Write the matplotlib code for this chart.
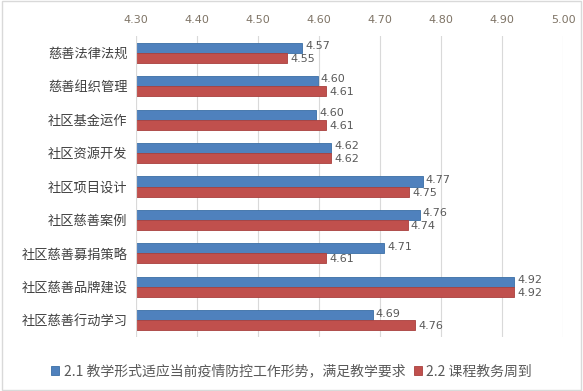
import numpy as np
import matplotlib
matplotlib.use("Agg")
import matplotlib.pyplot as plt
from matplotlib.patches import Rectangle

plt.rcParams['font.family'] = ['Noto Sans CJK SC', 'DejaVu Sans']

categories = ['慈善法律法规', '慈善组织管理', '社区基金运作', '社区资源开发', '社区项目设计',
              '社区慈善案例', '社区慈善募捐策略', '社区慈善品牌建设', '社区慈善行动学习']
s1 = [4.572, 4.598, 4.595, 4.62, 4.77, 4.765, 4.707, 4.92, 4.688]
s2 = [4.548, 4.612, 4.612, 4.62, 4.748, 4.745, 4.612, 4.92, 4.758]
labels1 = ['4.57', '4.60', '4.60', '4.62', '4.77', '4.76', '4.71', '4.92', '4.69']
labels2 = ['4.55', '4.61', '4.61', '4.62', '4.75', '4.74', '4.61', '4.92', '4.76']
series_names = ['2.1 教学形式适应当前疫情防控工作形势，满足教学要求', '2.2 课程教务周到']
ticks = [4.30, 4.40, 4.50, 4.60, 4.70, 4.80, 4.90, 5.00]

blue = '#4f81bd'
red = '#c0504d'
grey = '#595959'

fig = plt.figure(figsize=(5.83, 3.91), dpi=100)
ax = fig.add_axes([0.233, 0.138, 0.733, 0.770])

y = np.arange(len(categories))
h = 0.3
base = 4.30
ax.barh(y - h/2, np.array(s1) - base, left=base, height=h, color=blue, edgecolor='#3a6ea5', linewidth=0.6, label=series_names[0])
ax.barh(y + h/2, np.array(s2) - base, left=base, height=h, color=red, edgecolor='#a9403d', linewidth=0.6, label=series_names[1])

for i in range(len(categories)):
    ax.text(s1[i] + 0.005, y[i] - h/2 - 0.05, labels1[i], fontsize=8, color=grey, va='center', ha='left', family='DejaVu Sans')
    ax.text(s2[i] + 0.005, y[i] + h/2 + 0.03, labels2[i], fontsize=8, color=grey, va='center', ha='left', family='DejaVu Sans')

ax.set_xlim(4.30, 5.00)
ax.set_ylim(len(categories) - 0.5, -0.5)
ax.set_xticks(ticks)
ax.set_xticklabels(['%.2f' % t for t in ticks], fontsize=8, color='#7f7466', family='DejaVu Sans')
ax.xaxis.tick_top()
ax.tick_params(axis='x', length=0, pad=8)
ax.set_yticks(y)
ax.set_yticklabels(categories, fontsize=9.5, color='#404040')
ax.tick_params(axis='y', length=0, pad=6)
ax.grid(axis='x', color='#d9d9d9', linewidth=0.8)
ax.set_axisbelow(True)
for sp in ax.spines.values():
    sp.set_visible(False)
ax.axvline(4.30, color='#d9d9d9', linewidth=0.8)

fig.legend(loc='center', bbox_to_anchor=(0.50, 0.05), ncol=2, frameon=False, fontsize=10,
           handlelength=0.6, handleheight=0.6, handletextpad=0.3, columnspacing=0.6,
           labelcolor=grey)

fig.patches.append(Rectangle((0.003, 0.003), 0.994, 0.994, transform=fig.transFigure,
                             fill=False, edgecolor='#d9d9d9', linewidth=1))

fig.savefig('out.png', dpi=100)
